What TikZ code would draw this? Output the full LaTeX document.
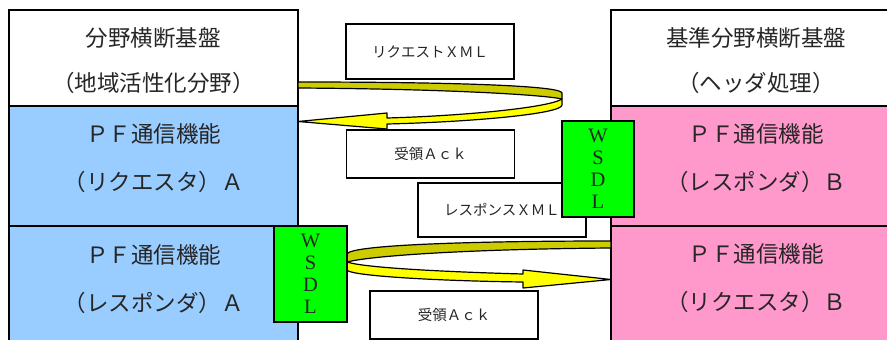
\documentclass[tikz,border=0pt]{standalone}
\usepackage{fontspec}
\setmainfont{Noto Sans CJK JP}
\newfontfamily\wsdlfont{Liberation Serif}
\usepackage{tikz}
\usetikzlibrary{positioning}
\definecolor{reqblue}{HTML}{99CCFF}
\definecolor{resppink}{HTML}{FF99CC}
\definecolor{wsdlgreen}{HTML}{00FF00}
\definecolor{bandback}{HTML}{CCCC00}
\definecolor{bandfront}{HTML}{FFFF00}

\begin{document}
\begin{tikzpicture}[x=1pt, y=-1pt,
stacknode/.style={rectangle, draw=black, line width=1.6pt, outer sep=0pt, minimum width=289pt, anchor=north west},
bigtext/.style={align=center, font=\fontsize{22.5}{48}\selectfont},
msgnode/.style={rectangle, draw=black, line width=1.6pt, fill=white, minimum width=168pt, font=\fontsize{14.5}{16}\selectfont},
wsdlnode/.style={rectangle, draw=black, line width=1.6pt, fill=wsdlgreen, minimum width=72pt, minimum height=96pt, align=center, font=\wsdlfont\fontsize{20.5}{22}\selectfont},
band/.style={draw=black, line width=1.2pt, line join=round}]
\tikzstyle{every node}=[text=black!85]
\useasboundingbox (0,0) rectangle (887,340);
\clip (0,0) rectangle (887,340);

% left side (A)
\node[stacknode, fill=white, minimum height=96pt] (hdrA) at (9,10) {};
\node[stacknode, fill=reqblue, minimum height=120pt, below=0pt of hdrA] (reqA) {};
\node[stacknode, fill=reqblue, minimum height=124pt, below=0pt of reqA] (respA) {};
\node[bigtext, font=\fontsize{22.5}{45}\selectfont] (hdrAtxt) at ([yshift=-50.5]hdrA.north) {分野横断基盤\\（地域活性化分野）};
\node[bigtext] (reqAtxt) at ([yshift=-52.5]reqA.north) {ＰＦ通信機能\\（リクエスタ）Ａ};
\node[bigtext] (respAtxt) at ([yshift=-53]respA.north) {ＰＦ通信機能\\（レスポンダ）Ａ};

% right side (B)
\node[stacknode, fill=white, minimum width=290pt, minimum height=96pt] (hdrB) at (611,10) {};
\node[stacknode, fill=resppink, minimum width=290pt, minimum height=120pt, below=0pt of hdrB] (respB) {};
\node[stacknode, fill=resppink, minimum width=290pt, minimum height=124pt, below=0pt of respB] (reqB) {};
\node[bigtext, font=\fontsize{22.5}{45}\selectfont] (hdrBtxt) at ([yshift=-50.5]hdrB.north) {基準分野横断基盤\\（ヘッダ処理）};
\node[bigtext] (respBtxt) at ([yshift=-52]respB.north) {ＰＦ通信機能\\（レスポンダ）Ｂ};
\node[bigtext] (reqBtxt) at ([yshift=-52.5]reqB.north) {ＰＦ通信機能\\（リクエスタ）Ｂ};

% request loop
\draw[band, fill=bandback] ([yshift=24]hdrA.south east) .. controls (460,82) and (562,86) .. (562,93)
  -- (562,99) .. controls (545,95) and (450,89) .. ([yshift=18]hdrA.south east) -- cycle;
\draw[band, fill=bandfront] (562,99) .. controls (548,108) and (460,116) .. (387,118) -- (387,113)
  -- ([yshift=-15.5]reqA.north east) -- (387,129) -- (387,124) .. controls (470,122) and (562,114) .. (562,105) -- cycle;

% response loop
\draw[band, fill=bandback] ([yshift=-15]reqB.north west) .. controls (470,241) and (350,245) .. (347,254)
  -- (347,262) .. controls (375,255) and (480,249) .. ([yshift=-22]reqB.north west) -- cycle;
\draw[band, fill=bandfront] (347,262) .. controls (365,268) and (450,272) .. (523,274) -- (523,270)
  -- ([yshift=-53.5]reqB.north west) -- (523,288) -- (523,282) .. controls (440,281) and (350,276) .. (347,270) -- cycle;

% messages
\node[msgnode, minimum height=55pt] (reqXml) at (430,51.5) {リクエストＸＭＬ};
\node[msgnode, minimum height=48pt] (ackA) at (430.5,154) {受領Ａｃｋ};
\node[msgnode, minimum height=54pt] (respXml) at (502,210) {レスポンスＸＭＬ};
\node[msgnode, minimum height=48pt] (ackB) at (454,315) {受領Ａｃｋ};

% WSDL
\node[wsdlnode] (wsdlB) at (598,169) {W\\S\\D\\L};
\node[wsdlnode, minimum width=73pt] (wsdlA) at (310.5,274) {W\\S\\D\\L};
\end{tikzpicture}
\end{document}
